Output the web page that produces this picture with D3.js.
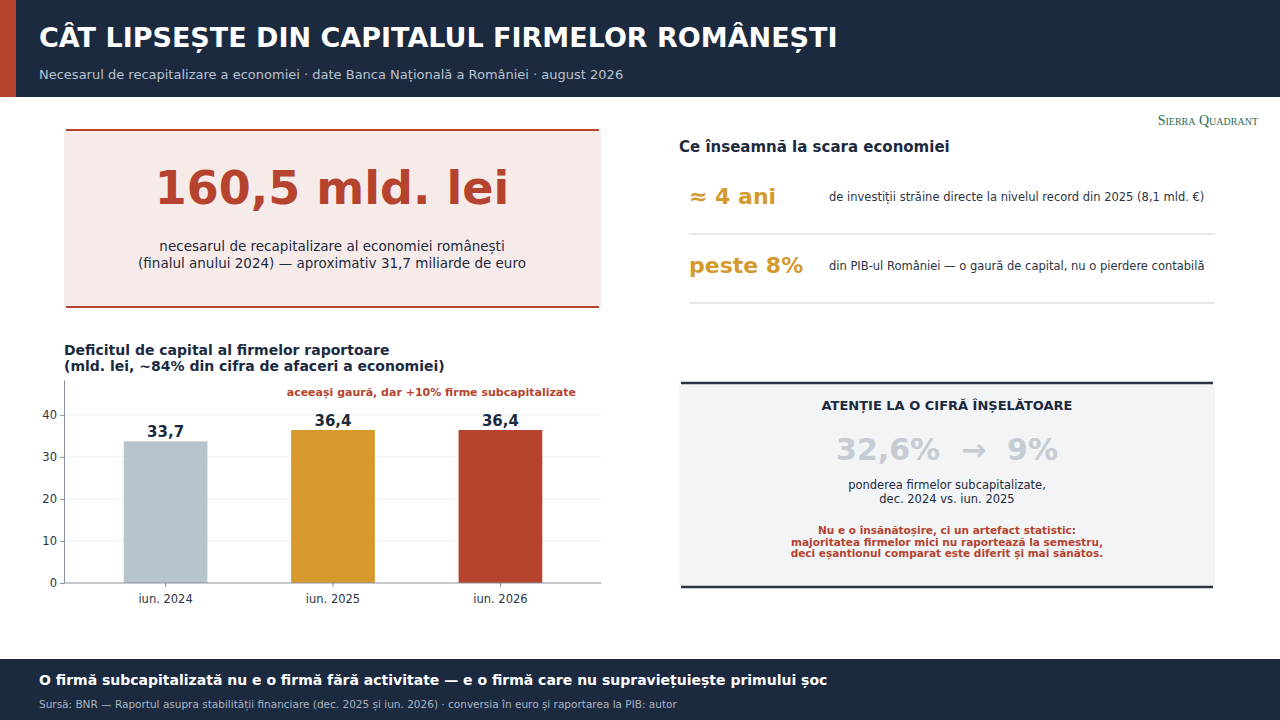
<!DOCTYPE html>
<html><head><meta charset="utf-8">
<script src="https://cdn.jsdelivr.net/npm/d3@7"></script>
<style>body{margin:0;background:#fff;font-family:"DejaVu Sans",sans-serif}</style>
</head><body><svg id="c" width="1280" height="720"></svg>
<script>
var periods = ['iun. 2024', 'iun. 2025', 'iun. 2026'];
var deficit = [33.7, 36.4, 36.4];
var barColors = ['#b8c4cc', '#d7992c', '#b5432e'];
var yTicks = [0, 10, 20, 30, 40];

var navy = '#1c2a40', red = '#b5432e', gold = '#d49a2e';
var svg = d3.select('#c');

function txt(x, y, s, o) {
    o = o || {};
    return svg.append('text').attr('x', x).attr('y', y).text(s)
        .attr('font-size', o.size || 12).attr('font-weight', o.bold ? 'bold' : 'normal')
        .attr('fill', o.fill || navy).attr('text-anchor', o.anchor || 'start')
        .attr('font-family', o.family || null);
}

// header
svg.append('rect').attr('width', 1280).attr('height', 97).attr('fill', navy);
svg.append('rect').attr('width', 16).attr('height', 97).attr('fill', red);
txt(39, 47, 'CÂT LIPSEȘTE DIN CAPITALUL FIRMELOR ROMÂNEȘTI', {size: 27, bold: 1, fill: '#fff'});
txt(39, 79, 'Necesarul de recapitalizare a economiei · date Banca Națională a României · august 2026', {size: 13, fill: '#b9c2cf'});
txt(1258, 125, 'Sierra Quadrant', {size: 14, fill: '#2e6b55', anchor: 'end', family: 'Liberation Serif'})
    .attr('font-variant', 'small-caps');

// big number box
svg.append('rect').attr('x', 64).attr('y', 130).attr('width', 537).attr('height', 178).attr('rx', 4).attr('fill', '#f7ebe9');
[130, 307].forEach(function (y) {
    svg.append('line').attr('x1', 66).attr('x2', 599).attr('y1', y).attr('y2', y).attr('stroke', red).attr('stroke-width', 2);
});
txt(332, 204, '160,5 mld. lei', {size: 46, bold: 1, fill: red, anchor: 'middle'});
txt(332, 251, 'necesarul de recapitalizare al economiei românești', {size: 13.5, anchor: 'middle'});
txt(332, 268, '(finalul anului 2024) — aproximativ 31,7 miliarde de euro', {size: 13.5, anchor: 'middle'});

// scale rows
txt(679, 152, 'Ce înseamnă la scara economiei', {size: 15, bold: 1});
var rows = [
    ['≈ 4 ani', 'de investiții străine directe la nivelul record din 2025 (8,1 mld. €)'],
    ['peste 8%', 'din PIB-ul României — o gaură de capital, nu o pierdere contabilă']
];
rows.forEach(function (r, i) {
    var y = 204 + i * 69;
    txt(689, y, r[0], {size: 22, bold: 1, fill: gold});
    txt(829, y - 3, r[1], {size: 11.5, fill: '#2a3444'});
    svg.append('line').attr('x1', 689).attr('x2', 1215).attr('y1', y + 30).attr('y2', y + 30).attr('stroke', '#dde1e5').attr('stroke-width', 1.5);
});

// bar chart
txt(64, 355, 'Deficitul de capital al firmelor raportoare', {size: 14, bold: 1});
txt(64, 371, '(mld. lei, ~84% din cifra de afaceri a economiei)', {size: 14, bold: 1});
var x = d3.scaleBand().domain(periods).range([40, 626]).padding(0.5);
var y = d3.scaleLinear().domain([0, 48.3]).range([583, 380]);
var g = svg.append('g');
g.selectAll('.grid').data(yTicks.slice(1)).enter().append('line')
    .attr('x1', 64).attr('x2', 601).attr('y1', y).attr('y2', y).attr('stroke', '#eceef0');
g.selectAll('.bar').data(deficit).enter().append('rect')
    .attr('x', function (d, i) { return x(periods[i]); }).attr('width', x.bandwidth())
    .attr('y', y).attr('height', function (d) { return 583 - y(d); })
    .attr('fill', function (d, i) { return barColors[i]; });
g.selectAll('.lbl').data(deficit).enter().append('text')
    .attr('x', function (d, i) { return x(periods[i]) + x.bandwidth() / 2; })
    .attr('y', function (d) { return y(d) - 4; }).attr('text-anchor', 'middle')
    .attr('font-size', 15).attr('font-weight', 'bold').attr('fill', navy)
    .text(function (d) { return d3.format('.1f')(d).replace('.', ','); });
var ya = svg.append('g').attr('transform', 'translate(64,0)')
    .call(d3.axisLeft(y).tickValues(yTicks).tickSize(4).tickSizeOuter(0));
var xa = svg.append('g').attr('transform', 'translate(0,583)')
    .call(d3.axisBottom(x).tickSize(4).tickSizeOuter(0));
xa.select('.domain').attr('d', 'M64,0H601');
[ya, xa].forEach(function (a) {
    a.selectAll('.domain,line').attr('stroke', '#8a929c');
    a.selectAll('text').attr('font-size', 11.5).attr('fill', '#2a3444').attr('font-family', 'DejaVu Sans');
});
xa.selectAll('text').attr('dy', '1.1em');
txt(576, 396, 'aceeași gaură, dar +10% firme subcapitalizate', {size: 11, bold: 1, fill: red, anchor: 'end'});

// warning box
svg.append('rect').attr('x', 679).attr('y', 383).attr('width', 536).attr('height', 205).attr('rx', 5).attr('fill', '#f2f4f6');
[383, 587].forEach(function (yy) {
    svg.append('line').attr('x1', 681).attr('x2', 1213).attr('y1', yy).attr('y2', yy).attr('stroke', '#2a3444').attr('stroke-width', 2.5);
});
txt(947, 410, 'ATENȚIE LA O CIFRĂ ÎNȘELĂTOARE', {size: 13, bold: 1, anchor: 'middle'});
txt(947, 460, '32,6%  →  9%', {size: 30, bold: 1, fill: '#c5ccd3', anchor: 'middle'}).attr('xml:space', 'preserve');
txt(947, 489, 'ponderea firmelor subcapitalizate,', {size: 11.5, anchor: 'middle'});
txt(947, 503, 'dec. 2024 vs. iun. 2025', {size: 11.5, anchor: 'middle'});
['Nu e o însănătoșire, ci un artefact statistic:',
 'majoritatea firmelor mici nu raportează la semestru,',
 'deci eșantionul comparat este diferit și mai sănătos.'].forEach(function (s, i) {
    txt(947, 534 + i * 11.5, s, {size: 10.5, bold: 1, fill: red, anchor: 'middle'});
});

// footer
svg.append('rect').attr('y', 659).attr('width', 1280).attr('height', 61).attr('fill', navy);
txt(39, 685, 'O firmă subcapitalizată nu e o firmă fără activitate — e o firmă care nu supraviețuiește primului șoc', {size: 14, bold: 1, fill: '#fff'});
txt(39, 708, 'Sursă: BNR — Raportul asupra stabilității financiare (dec. 2025 și iun. 2026) · conversia în euro și raportarea la PIB: autor', {size: 10.5, fill: '#aab4c2'});
</script></body></html>
